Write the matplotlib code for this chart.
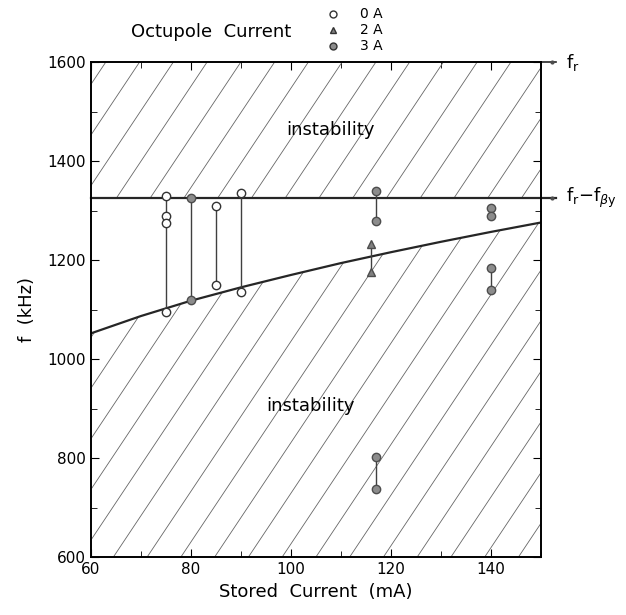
import matplotlib.pyplot as plt
import numpy as np
from matplotlib.lines import Line2D

# stability boundaries
f_top = 1600
f_r_minus_fb = 1325
curve_x = [60, 70, 80, 90, 100, 110, 120, 130, 140, 150]
curve_f = [1052, 1087, 1118, 1145, 1170, 1194, 1216, 1237, 1257, 1276]

# 0 A (open circles)
oa_x = [75, 75, 75, 75, 85, 85, 90, 90]
oa_f = [1330, 1290, 1275, 1095, 1310, 1150, 1335, 1135]
# 2 A (triangles)
ta_x = [116, 116]
ta_f = [1232, 1177]
# 3 A (grey circles)
ga_x = [80, 80, 117, 117, 117, 117, 140, 140, 140, 140]
ga_f = [1325, 1120, 1340, 1280, 803, 737, 1305, 1290, 1185, 1140]

# vertical bars joining the measured pairs
bar_x = [75, 80, 85, 90, 116, 117, 117, 140]
bar_lo = [1095, 1120, 1150, 1135, 1177, 1280, 737, 1140]
bar_hi = [1330, 1325, 1310, 1335, 1232, 1340, 803, 1185]

plt.rcParams['font.family'] = 'DejaVu Sans'
fig = plt.figure(figsize=(6.26, 6.15), dpi=100)
ax = fig.add_axes([0.145, 0.094, 0.719, 0.805])
ax.set_xlim(60, 150)
ax.set_ylim(600, 1600)

# hatched instability regions
xc = np.array(curve_x)
fc = np.array(curve_f)
low = ax.fill_between(xc, 600, fc, facecolor='none', edgecolor='none')
up = ax.fill_between([60, 150], f_r_minus_fb, f_top, facecolor='none', edgecolor='none')
slope = 1.5 * 450 / 495
for off in np.arange(-1.0, 1.0, 0.075):
    for poly in (low, up):
        ln, = ax.plot([off, off + 1.0], [0, slope],
                      transform=ax.transAxes, color='0.4', lw=0.6)
        ln.set_clip_path(poly.get_paths()[0], ax.transData)

ax.plot(xc, fc, color='0.15', lw=1.6)
ax.plot([60, 153], [f_r_minus_fb, f_r_minus_fb], color='0.15', lw=1.6, clip_on=False)
ax.plot([150, 153], [f_top, f_top], color='0.15', lw=1.2, clip_on=False)
ax.plot([152.2], [f_top], 'o', ms=2, color='0.3', clip_on=False)
ax.plot([152.2], [f_r_minus_fb], 'o', ms=2, color='0.3', clip_on=False)

ax.vlines(bar_x, bar_lo, bar_hi, color='0.25', lw=1.0)
ax.plot(oa_x, oa_f, 'o', ms=6, mfc='white', mec='0.2', mew=1.0, ls='none')
ax.plot(ta_x, ta_f, '^', ms=6, mfc='0.5', mec='0.3', ls='none')
ax.plot(ga_x, ga_f, 'o', ms=6, mfc='0.55', mec='0.3', ls='none')

ax.text(108, 1463, 'instability', fontsize=13, ha='center', va='center')
ax.text(104, 905, 'instability', fontsize=13, ha='center', va='center')
ax.text(155, f_top, r'f$_{\rm r}$', fontsize=13, va='center')
ax.text(155, f_r_minus_fb, r'f$_{\rm r}$$-$f$_{\beta\rm y}$', fontsize=13, va='center')

ax.set_xticks(range(60, 151, 20))
ax.set_xticks(range(70, 151, 10), minor=True)
ax.set_yticks(range(600, 1601, 200))
ax.set_yticks(range(700, 1601, 100), minor=True)
ax.tick_params(which='both', direction='in', top=True, right=True, labelsize=11)
ax.tick_params(which='major', length=6)
ax.tick_params(which='minor', length=4)
for s in ax.spines.values():
    s.set_linewidth(1.4)

ax.set_xlabel('Stored  Current  (mA)', fontsize=13)
ax.set_ylabel('f  (kHz)', fontsize=13, labelpad=8)

# legend
fig.text(0.21, 1 - 32 / 615, 'Octupole  Current', fontsize=13, va='center')
leg_y = [1 - 14 / 615, 1 - 30 / 615, 1 - 46 / 615]
for yy, mk, fcol, lab in zip(leg_y, ['o', '^', 'o'], ['white', '0.5', '0.55'], ['0 A', '2 A', '3 A']):
    fig.add_artist(Line2D([333 / 626], [yy], marker=mk, ms=5, mfc=fcol, mec='0.2',
                          ls='none', transform=fig.transFigure))
    fig.text(360 / 626, yy, lab, fontsize=10, va='center')

fig.savefig('out.png', dpi=100)
